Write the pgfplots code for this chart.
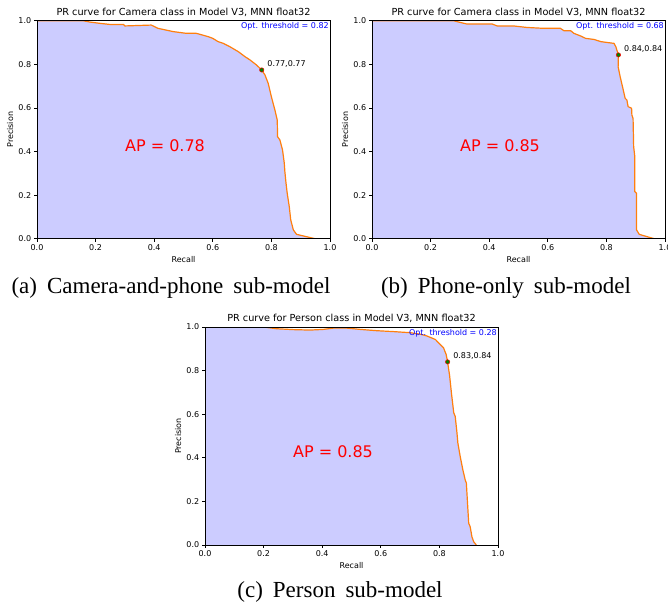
\documentclass[border=0pt]{standalone}
\usepackage{fontspec}
\setmainfont{Liberation Serif}
\newfontfamily\dv{DejaVu Sans}
\usepackage{pgfplots}
\usepackage{pgfplotstable}
\pgfplotsset{compat=1.18}
\definecolor{mplorange}{RGB}{255,127,14}
\definecolor{fillc}{RGB}{204,204,255}
\definecolor{mplgreen}{RGB}{0,128,0}

\pgfplotstableread{
x y
0 1
0.157 1
0.18 0.994
0.214 0.988
0.248 0.983
0.295 0.983
0.30 0.976
0.39 0.980
0.413 0.965
0.465 0.950
0.51 0.942
0.544 0.942
0.584 0.927
0.60 0.919
0.618 0.904
0.636 0.896
0.658 0.881
0.687 0.858
0.71 0.835
0.727 0.820
0.749 0.797
0.767 0.774
0.778 0.751
0.789 0.713
0.80 0.651
0.812 0.590
0.82 0.544
0.821 0.468
0.829 0.453
0.838 0.407
0.844 0.346
0.846 0.307
0.85 0.254
0.854 0.208
0.861 0.147
0.866 0.086
0.875 0.040
0.886 0.020
0.949 0
}\dataA

\pgfplotstableread{
x y
0 1
0.278 1
0.323 0.985
0.41 0.985
0.427 0.976
0.483 0.976
0.529 0.969
0.586 0.965
0.643 0.965
0.655 0.954
0.678 0.954
0.689 0.942
0.712 0.930
0.729 0.919
0.758 0.914
0.781 0.904
0.826 0.896
0.832 0.881
0.841 0.843
0.84 0.789
0.847 0.743
0.855 0.697
0.864 0.644
0.87 0.636
0.874 0.606
0.886 0.598
0.887 0.567
0.891 0.552
0.893 0.422
0.897 0.376
0.897 0.216
0.903 0.208
0.903 0.040
0.912 0.020
0.963 0
}\dataB

\pgfplotstableread{
x y
0 1
0.20 1
0.245 0.992
0.302 0.988
0.359 0.986
0.404 0.989
0.438 0.995
0.484 0.995
0.53 0.989
0.587 0.983
0.643 0.979
0.70 0.974
0.735 0.967
0.757 0.959
0.786 0.943
0.797 0.928
0.814 0.905
0.823 0.874
0.828 0.840
0.835 0.775
0.841 0.698
0.849 0.606
0.854 0.590
0.86 0.514
0.863 0.468
0.871 0.406
0.88 0.345
0.888 0.299
0.892 0.284
0.896 0.192
0.90 0.100
0.905 0.084
0.911 0.038
0.917 0.015
0.926 0
}\dataC

\pgfplotsset{
  prstyle/.style={
    scale only axis, width=293pt, height=218pt,
    xmin=0, xmax=1, ymin=0, ymax=1,
    xtick={0,0.2,0.4,0.6,0.8,1}, ytick={0,0.2,0.4,0.6,0.8,1},
    tick pos=left, tick align=outside,
    major tick length=2.8pt,
    every tick/.style={black, line width=0.64pt},
    axis line style={line width=0.64pt},
    axis on top,
    /pgf/number format/assume math mode=true,
    /pgf/number format/.cd, fixed, fixed zerofill, precision=1, /pgfplots/.cd,
    tick label style={font=\dv\fontsize{8}{9}\selectfont},
    xticklabel style={inner sep=0pt, anchor=north, yshift=-2.8pt},
    yticklabel style={inner sep=0pt, anchor=east, xshift=-2.8pt},
    title style={font=\dv\fontsize{9.7}{11}\selectfont, at={(0.5,1)}, anchor=base, yshift=-0.3pt, inner sep=0pt},
    xlabel style={font=\dv\fontsize{8}{9}\selectfont, at={(axis description cs:0.5,-0.094)}, anchor=center},
    ylabel style={font=\dv\fontsize{8}{9}\selectfont, at={(axis description cs:-0.0915,0.5)}, anchor=center},
    xlabel={Recall}, ylabel={Precision},
  }
}

\begin{document}
\begin{tikzpicture}
\useasboundingbox (0,0) rectangle (668pt,-606pt);

% (a)
\begin{axis}[prstyle, at={(37pt,-238.7pt)}, anchor=south west,
  title={PR curve for Camera class in Model V3, MNN float32}]
\addplot[fill=fillc, draw=none] table {\dataA} \closedcycle;
\addplot[mplorange, line width=1.2pt] table {\dataA};
\addplot[only marks, mark=*, mark size=2.2pt, mark options={fill=mplgreen, draw=red, line width=0.5pt}] coordinates {(0.767,0.774)};
\node[anchor=base west, font=\dv\fontsize{8}{9}\selectfont, inner sep=0pt, xshift=5.5pt, yshift=3.5pt] at (axis cs:0.767,0.774) {0.77,0.77};
\node[anchor=base east, font=\dv\fontsize{8}{9}\selectfont, text=blue, inner sep=0pt, xshift=-1pt, yshift=-8pt] at (rel axis cs:1,1) {Opt. threshold = 0.82};
\node[anchor=base west, font=\dv\fontsize{16}{18}\selectfont, text=red, inner sep=0pt] at (axis cs:0.3,0.4) {AP = 0.78};
\end{axis}

% (b)
\begin{axis}[prstyle, at={(372pt,-238.7pt)}, anchor=south west,
  title={PR curve for Camera class in Model V3, MNN float32}]
\addplot[fill=fillc, draw=none] table {\dataB} \closedcycle;
\addplot[mplorange, line width=1.2pt] table {\dataB};
\addplot[only marks, mark=*, mark size=2.2pt, mark options={fill=mplgreen, draw=red, line width=0.5pt}] coordinates {(0.841,0.843)};
\node[anchor=base west, font=\dv\fontsize{8}{9}\selectfont, inner sep=0pt, xshift=5.5pt, yshift=3.5pt] at (axis cs:0.841,0.843) {0.84,0.84};
\node[anchor=base east, font=\dv\fontsize{8}{9}\selectfont, text=blue, inner sep=0pt, xshift=-1pt, yshift=-8pt] at (rel axis cs:1,1) {Opt. threshold = 0.68};
\node[anchor=base west, font=\dv\fontsize{16}{18}\selectfont, text=red, inner sep=0pt] at (axis cs:0.3,0.4) {AP = 0.85};
\end{axis}

% (c)
\begin{axis}[prstyle, at={(205pt,-545pt)}, anchor=south west,
  title={PR curve for Person class in Model V3, MNN float32}]
\addplot[fill=fillc, draw=none] table {\dataC} \closedcycle;
\addplot[mplorange, line width=1.2pt] table {\dataC};
\addplot[only marks, mark=*, mark size=2.2pt, mark options={fill=mplgreen, draw=red, line width=0.5pt}] coordinates {(0.828,0.840)};
\node[anchor=base west, font=\dv\fontsize{8}{9}\selectfont, inner sep=0pt, xshift=5.5pt, yshift=3.5pt] at (axis cs:0.828,0.840) {0.83,0.84};
\node[anchor=base east, font=\dv\fontsize{8}{9}\selectfont, text=blue, inner sep=0pt, xshift=-1pt, yshift=-8pt] at (rel axis cs:1,1) {Opt. threshold = 0.28};
\node[anchor=base west, font=\dv\fontsize{16}{18}\selectfont, text=red, inner sep=0pt] at (axis cs:0.3,0.4) {AP = 0.85};
\end{axis}

\node[anchor=base, font=\fontsize{23}{26}\selectfont, inner sep=0pt] at (171pt,-293pt) {(a)\hspace{10pt}Camera-and-phone\hspace{10pt}sub-model};
\node[anchor=base, font=\fontsize{23}{26}\selectfont, inner sep=0pt] at (506pt,-293pt) {(b)\hspace{10pt}Phone-only\hspace{10pt}sub-model};
\node[anchor=base, font=\fontsize{23}{26}\selectfont, inner sep=0pt] at (340pt,-597pt) {(c)\hspace{10pt}Person\hspace{10pt}sub-model};
\end{tikzpicture}
\end{document}
